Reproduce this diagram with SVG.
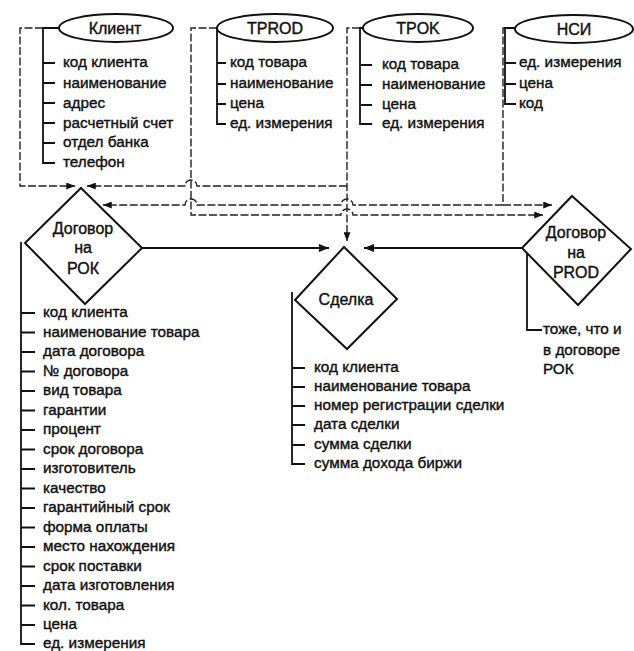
<svg xmlns="http://www.w3.org/2000/svg" width="634" height="651" viewBox="0 0 634 651">
<style>
  text { font-family: "Liberation Sans", Arial, sans-serif; fill: #111; stroke: #111; stroke-width: 0.4; }
  .it { font-size: 15.3px; }
  .lb { font-size: 16px; text-anchor: middle; }
  .shape { fill: #fff; stroke: #111; stroke-width: 2; }
  .attr { fill: none; stroke: #111; stroke-width: 1.8; }
  .dash { fill: none; stroke: #222; stroke-width: 1.4; stroke-dasharray: 8 2.5; }
  .solid { fill: none; stroke: #111; stroke-width: 2.2; }
</style>
<defs>
  <marker id="ah" viewBox="0 0 10 8" refX="10" refY="4" markerWidth="9" markerHeight="7" orient="auto" markerUnits="userSpaceOnUse">
    <path d="M0,0 L10,4 L0,8 z" fill="#111"/>
  </marker>
  <marker id="ahs" viewBox="0 0 10 8" refX="10" refY="4" markerWidth="12" markerHeight="8" orient="auto" markerUnits="userSpaceOnUse">
    <path d="M0,0 L10,4 L0,8 z" fill="#111"/>
  </marker>
</defs>

<g id="connectors">
  <path class="dash" d="M43 28 L20 28 L20 186 L75 186" marker-end="url(#ah)"/>
  <path class="dash" d="M347 186 L197 186 A6 6 0 0 0 185 186 L87 186" marker-end="url(#ah)"/>
  <path class="dash" d="M505 28 L503 28 L503 205"/>
  <path class="dash" d="M503 205 L353 205 A6 6 0 0 0 341 205 L197 205 A6 6 0 0 0 185 205 L103 205" marker-end="url(#ah)"/>
  <path class="dash" d="M503 205 L552 205" marker-end="url(#ah)"/>
  <path class="dash" d="M217 28 L191 28 L191 215 L341 215 A6 6 0 0 1 353 215 L543 215" marker-end="url(#ah)"/>
  <path class="dash" d="M360 28 L347 28 L347 241" marker-end="url(#ah)"/>
  <path class="solid" d="M142 248 L329 248" marker-end="url(#ahs)"/>
  <path class="solid" d="M522 248 L364 248" marker-end="url(#ahs)"/>
</g>

<g id="klient">
  <path class="attr" d="M59 28 L43 28 L43 163 L55 163 M43 63 L55 63 M43 83 L55 83 M43 103 L55 103 M43 123 L55 123 M43 143 L55 143"/>
  <ellipse class="shape" cx="116" cy="28" rx="57" ry="14"/>
  <text class="lb" x="115" y="34">Клиент</text>
  <text class="it" x="63" y="67">код клиента</text>
  <text class="it" x="63" y="88">наименование</text>
  <text class="it" x="63" y="108">адрес</text>
  <text class="it" x="63" y="128">расчетный счет</text>
  <text class="it" x="63" y="147">отдел банка</text>
  <text class="it" x="63" y="167">телефон</text>
</g>

<g id="tprod">
  <path class="attr" d="M217 28 L217 124 L226 124 M217 63 L226 63 M217 84 L226 84 M217 104 L226 104"/>
  <ellipse class="shape" cx="275" cy="28" rx="58" ry="14"/>
  <text class="lb" x="275" y="34">TPROD</text>
  <text class="it" x="230" y="67">код товара</text>
  <text class="it" x="230" y="88">наименование</text>
  <text class="it" x="230" y="108">цена</text>
  <text class="it" x="230" y="128">ед. измерения</text>
</g>

<g id="tpok">
  <path class="attr" d="M363 28 L360 28 L360 124 L372 124 M360 65 L372 65 M360 85 L372 85 M360 105 L372 105"/>
  <ellipse class="shape" cx="418" cy="28" rx="55" ry="14"/>
  <text class="lb" x="418" y="34">TPOK</text>
  <text class="it" x="382" y="69">код товара</text>
  <text class="it" x="382" y="89">наименование</text>
  <text class="it" x="382" y="109">цена</text>
  <text class="it" x="382" y="128">ед. измерения</text>
</g>

<g id="nsi">
  <path class="attr" d="M516 28 L505 28 L505 104 L516 104 M505 63 L516 63 M505 84 L516 84"/>
  <ellipse class="shape" cx="574" cy="29" rx="59" ry="14"/>
  <text class="lb" x="574" y="35">НСИ</text>
  <text class="it" x="519" y="67">ед. измерения</text>
  <text class="it" x="519" y="88">цена</text>
  <text class="it" x="519" y="108">код</text>
</g>

<g id="dogovor-rok">
  <path class="attr" d="M21 242 L21 644 L35 644 M21 313 L35 313 M21 332.5 L35 332.5 M21 352 L35 352 M21 371.5 L35 371.5 M21 391 L35 391 M21 410.5 L35 410.5 M21 430 L35 430 M21 449.5 L35 449.5 M21 469 L35 469 M21 488.5 L35 488.5 M21 508 L35 508 M21 527.5 L35 527.5 M21 547 L35 547 M21 566.5 L35 566.5 M21 586 L35 586 M21 605.5 L35 605.5 M21 625 L35 625"/>
  <polygon class="shape" points="81,188 142,248 85,304 25,243"/>
  <text class="lb" x="83" y="234">Договор</text>
  <text class="lb" x="83" y="253">на</text>
  <text class="lb" x="83" y="274">РОК</text>
  <text class="it" x="43" y="317">код клиента</text>
  <text class="it" x="43" y="336.5">наименование товара</text>
  <text class="it" x="43" y="356">дата договора</text>
  <text class="it" x="43" y="375.5">№ договора</text>
  <text class="it" x="43" y="395">вид товара</text>
  <text class="it" x="43" y="414.5">гарантии</text>
  <text class="it" x="43" y="434">процент</text>
  <text class="it" x="43" y="453.5">срок договора</text>
  <text class="it" x="43" y="473">изготовитель</text>
  <text class="it" x="43" y="492.5">качество</text>
  <text class="it" x="43" y="512">гарантийный срок</text>
  <text class="it" x="43" y="531.5">форма оплаты</text>
  <text class="it" x="43" y="551">место нахождения</text>
  <text class="it" x="43" y="570.5">срок поставки</text>
  <text class="it" x="43" y="590">дата изготовления</text>
  <text class="it" x="43" y="609.5">кол. товара</text>
  <text class="it" x="43" y="629">цена</text>
  <text class="it" x="43" y="648">ед. измерения</text>
</g>

<g id="sdelka">
  <path class="attr" d="M292 292 L292 464 L305 464 M292 368 L305 368 M292 387 L305 387 M292 406 L305 406 M292 425 L305 425 M292 445 L305 445"/>
  <polygon class="shape" points="344,247 397,299 347,349 295,300"/>
  <text class="lb" x="346" y="305">Сделка</text>
  <text class="it" x="314" y="372">код клиента</text>
  <text class="it" x="314" y="391">наименование товара</text>
  <text class="it" x="314" y="410">номер регистрации сделки</text>
  <text class="it" x="314" y="429">дата сделки</text>
  <text class="it" x="314" y="449">сумма сделки</text>
  <text class="it" x="314" y="468">сумма дохода биржи</text>
</g>

<g id="dogovor-prod">
  <path class="attr" d="M527 252 L527 330 L542 330"/>
  <polygon class="shape" points="572,196 631,249 578,305 522,248"/>
  <text class="lb" x="576" y="238">Договор</text>
  <text class="lb" x="576" y="258">на</text>
  <text class="lb" x="576" y="278">PROD</text>
  <text class="it" x="543" y="334">тоже, что и</text>
  <text class="it" x="543" y="355">в договоре</text>
  <text class="it" x="543" y="374">РОК</text>
</g>
</svg>
